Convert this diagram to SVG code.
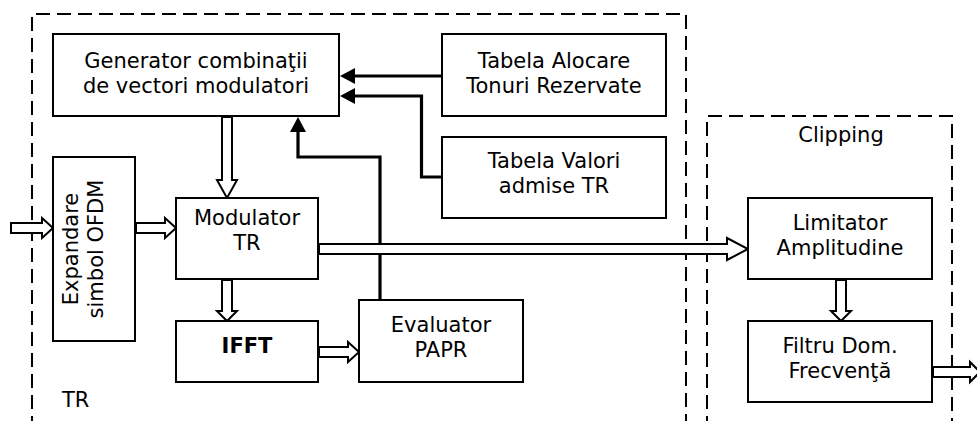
<svg xmlns="http://www.w3.org/2000/svg" width="977" height="421" viewBox="0 0 977 421">
<style>
.box{fill:#fff;stroke:#000;stroke-width:2}
.grp{fill:none;stroke:#000;stroke-width:2;stroke-dasharray:14 7}
.t{font-family:"DejaVu Sans",Verdana,sans-serif;font-size:21px;fill:#000;text-anchor:middle}
.tb{font-weight:bold}
.thick{fill:none;stroke:#000;stroke-width:3.2}
.head{fill:#000;stroke:none}
.hollow{fill:#fff;stroke:#000;stroke-width:2;stroke-linejoin:miter}
</style>
<rect width="977" height="421" fill="#fff"/>
<g id="group-tr">
<path class="grp" d="M32,430 V14 H686 V430"/>
<text class="t" x="62" y="407" style="text-anchor:start">TR</text>
</g>
<g id="group-clipping">
<path class="grp" d="M707,430 V116 H952 V430"/>
<text class="t" x="841" y="142">Clipping</text>
</g>
<g id="connectors">
<path class="thick" d="M442,76 H352"/>
<polygon class="head" points="340,76 355,68 355,84"/>
<path class="thick" d="M442,177 H421.5 V96 H352"/>
<polygon class="head" points="340,96 355,88 355,104"/>
<path class="thick" d="M380,300 V157 H298 V128"/>
<polygon class="head" points="298,117 290,132 306,132"/>
<polygon class="hollow" points="222,117 232,117 232,180 237,180 227,198 217,180 222,180"/>
<polygon class="hollow" points="222,280 232,280 232,311 237,311 227,321 217,311 222,311"/>
<polygon class="hollow" points="836,280 846,280 846,311 851,311 841,321 831,311 836,311"/>
<polygon class="hollow" points="11,223 42,223 42,218 53,228 42,238 42,233 11,233"/>
<polygon class="hollow" points="136,223 165,223 165,218 176,228 165,238 165,233 136,233"/>
<polygon class="hollow" points="319,347 348,347 348,342 359,352 348,362 348,357 319,357"/>
<polygon class="hollow" points="319,244 727,244 727,238 748,249 727,260 727,254 319,254"/>
<polygon class="hollow" points="933,367 970,367 970,362 980,372 970,382 970,377 933,377"/>
</g>
<g id="node-generator">
<rect class="box" x="53" y="34" width="286" height="82"/>
<text class="t" x="196" y="68">Generator combinaţii</text>
<text class="t" x="196" y="93">de vectori modulatori</text>
</g>
<g id="node-tabela-alocare">
<rect class="box" x="442" y="34" width="224" height="82"/>
<text class="t" x="554" y="68">Tabela Alocare</text>
<text class="t" x="554" y="93">Tonuri Rezervate</text>
</g>
<g id="node-tabela-valori">
<rect class="box" x="442" y="137" width="224" height="81"/>
<text class="t" x="554" y="168">Tabela Valori</text>
<text class="t" x="554" y="193">admise TR</text>
</g>
<g id="node-expandare">
<rect class="box" x="53" y="157" width="82" height="184"/>
<text class="t" transform="translate(78,249) rotate(-90)">Expandare</text>
<text class="t" transform="translate(103,249) rotate(-90)">simbol OFDM</text>
</g>
<g id="node-modulator">
<rect class="box" x="176" y="198" width="142" height="81"/>
<text class="t" x="247" y="225">Modulator</text>
<text class="t" x="247" y="250">TR</text>
</g>
<g id="node-ifft">
<rect class="box" x="176" y="321" width="142" height="61"/>
<text class="t tb" x="247" y="353">IFFT</text>
</g>
<g id="node-evaluator">
<rect class="box" x="359" y="300" width="164" height="82"/>
<text class="t" x="441" y="332">Evaluator</text>
<text class="t" x="441" y="357">PAPR</text>
</g>
<g id="node-limitator">
<rect class="box" x="748" y="198" width="184" height="81"/>
<text class="t" x="840" y="230">Limitator</text>
<text class="t" x="840" y="255">Amplitudine</text>
</g>
<g id="node-filtru">
<rect class="box" x="748" y="321" width="184" height="81"/>
<text class="t" x="840" y="353">Filtru Dom.</text>
<text class="t" x="840" y="378">Frecvenţă</text>
</g>
</svg>
